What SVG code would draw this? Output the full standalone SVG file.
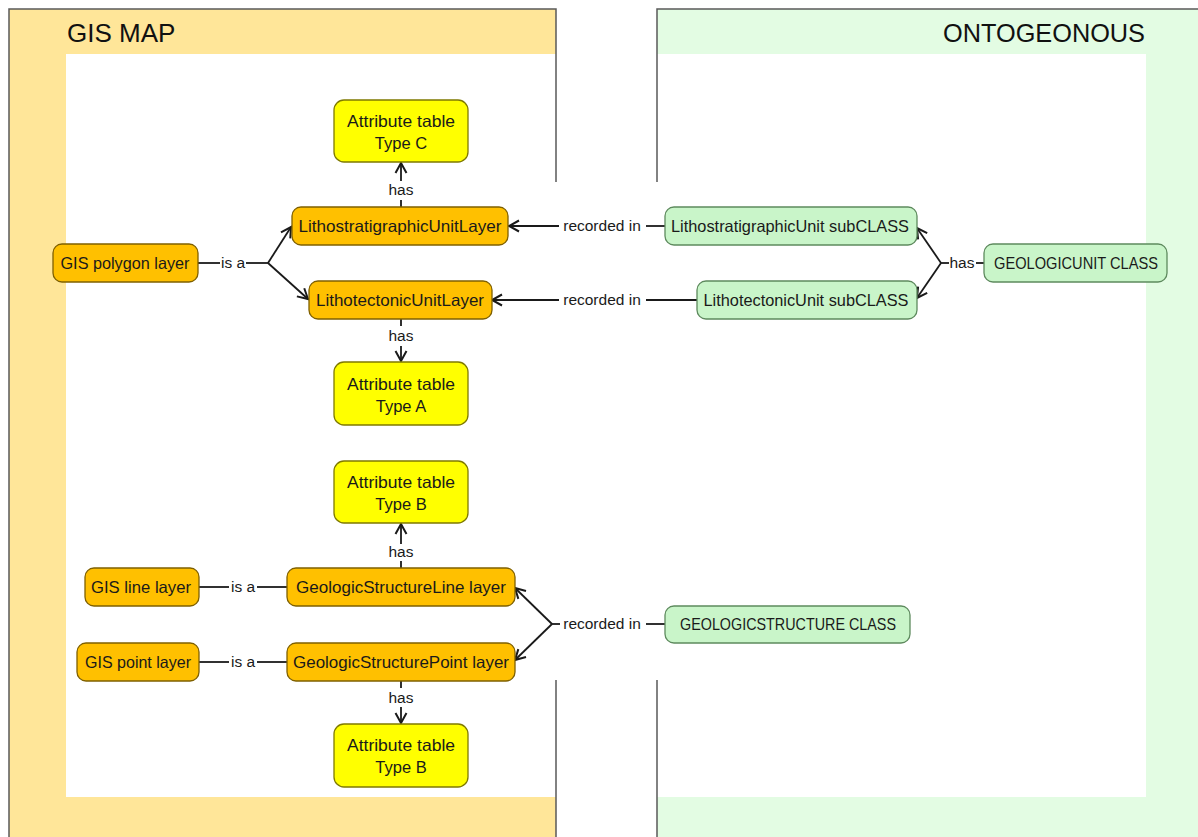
<svg xmlns="http://www.w3.org/2000/svg" width="1198" height="837" viewBox="0 0 1198 837">
  <defs>
    <style>
      .panel-border { fill: none; stroke: #5a5a5a; stroke-width: 1.5; }
      .title { font-family: "Liberation Sans", Arial, sans-serif; font-size: 26px; fill: #111; }
      .node rect { stroke-width: 1.3; }
      .gis rect { fill: #FFC000; stroke: #7F6000; }
      .table rect { fill: #FFFF00; stroke: #7F7A00; }
      .onto rect { fill: #C9F5C9; stroke: #5E8A5E; }
      .node text { font-family: "Liberation Sans", Arial, sans-serif; font-size: 16.5px; fill: #1a1a1a; text-anchor: middle; }
      .edge { fill: none; stroke: #1a1a1a; stroke-width: 1.8; }
      .lbl { font-family: "Liberation Sans", Arial, sans-serif; font-size: 15.5px; fill: #1a1a1a; text-anchor: middle; }
    </style>
    <marker id="arrow" viewBox="0 0 14 14" refX="12" refY="7" markerWidth="14" markerHeight="14" markerUnits="userSpaceOnUse" orient="auto">
      <path d="M2,1.5 L12,7 L2,12.5" fill="none" stroke="#1a1a1a" stroke-width="2" stroke-linejoin="miter"/>
    </marker>
  </defs>

  <!-- page background -->
  <rect x="0" y="0" width="1198" height="837" fill="#ffffff"/>

  <!-- GIS MAP panel -->
  <g id="panel-gis">
    <rect x="9" y="9" width="547" height="840" fill="#FFE699"/>
    <rect x="66" y="54" width="490" height="743" fill="#ffffff"/>
    <path class="panel-border" d="M9,845 V9 H556 V182 M556,680 V845"/>
    <text class="title" x="67" y="42">GIS MAP</text>
  </g>

  <!-- ONTOGEONOUS panel -->
  <g id="panel-onto">
    <rect x="657" y="9" width="560" height="840" fill="#E3FCE3"/>
    <rect x="657" y="54" width="489" height="743" fill="#ffffff"/>
    <path class="panel-border" d="M657,182 V9 H1210 M657,680 V845"/>
    <text class="title" x="943" y="42" textLength="202" lengthAdjust="spacingAndGlyphs">ONTOGEONOUS</text>
  </g>

  <!-- connectors -->
  <g id="connectors">
    <!-- LithostratigraphicUnitLayer has Attribute table Type C -->
    <path class="edge" d="M401,181 V163" marker-end="url(#arrow)"/>
    <path class="edge" d="M401,200 V207"/>
    <text class="lbl" x="401" y="195">has</text>

    <!-- GIS polygon layer is a ... -->
    <path class="edge" d="M198,263 H220"/>
    <text class="lbl" x="233" y="268">is a</text>
    <path class="edge" d="M246,263 H268"/>
    <path class="edge" d="M268,263 L291,227" marker-end="url(#arrow)"/>
    <path class="edge" d="M268,263 L308,299" marker-end="url(#arrow)"/>

    <!-- LithotectonicUnitLayer has Attribute table Type A -->
    <path class="edge" d="M401,319 V326"/>
    <text class="lbl" x="401" y="341">has</text>
    <path class="edge" d="M401,346 V361" marker-end="url(#arrow)"/>

    <!-- recorded in (lithostratigraphic) -->
    <path class="edge" d="M559,226 H509" marker-end="url(#arrow)"/>
    <text class="lbl" x="602" y="231">recorded in</text>
    <path class="edge" d="M646,226 H665"/>

    <!-- recorded in (lithotectonic) -->
    <path class="edge" d="M559,300 H492" marker-end="url(#arrow)"/>
    <text class="lbl" x="602" y="305">recorded in</text>
    <path class="edge" d="M646,300 H697"/>

    <!-- GEOLOGICUNIT CLASS has subclasses -->
    <path class="edge" d="M984,263 H976"/>
    <text class="lbl" x="962" y="268">has</text>
    <path class="edge" d="M949,263 H941"/>
    <path class="edge" d="M941,263 L917,228" marker-end="url(#arrow)"/>
    <path class="edge" d="M941,263 L917,298" marker-end="url(#arrow)"/>

    <!-- GeologicStructureLine layer has Attribute table Type B -->
    <path class="edge" d="M401,544 V524" marker-end="url(#arrow)"/>
    <text class="lbl" x="401" y="557">has</text>
    <path class="edge" d="M401,561 V568"/>

    <!-- GIS line layer is a GeologicStructureLine layer -->
    <path class="edge" d="M199,587 H229"/>
    <text class="lbl" x="243" y="592">is a</text>
    <path class="edge" d="M257,587 H287"/>

    <!-- GIS point layer is a GeologicStructurePoint layer -->
    <path class="edge" d="M199,662 H229"/>
    <text class="lbl" x="243" y="667">is a</text>
    <path class="edge" d="M257,662 H287"/>

    <!-- GEOLOGICSTRUCTURE CLASS recorded in structure layers -->
    <path class="edge" d="M665,624 H646"/>
    <text class="lbl" x="602" y="629">recorded in</text>
    <path class="edge" d="M560,624 H552"/>
    <path class="edge" d="M552,624 L515,588" marker-end="url(#arrow)"/>
    <path class="edge" d="M552,624 L515,660" marker-end="url(#arrow)"/>

    <!-- GeologicStructurePoint layer has Attribute table Type B -->
    <path class="edge" d="M401,681 V688"/>
    <text class="lbl" x="401" y="703">has</text>
    <path class="edge" d="M401,707 V723" marker-end="url(#arrow)"/>
  </g>

  <!-- GIS side nodes -->
  <g id="table-type-c" class="node table">
    <rect x="334" y="100" width="134" height="62" rx="10"/>
    <text x="401" y="127" textLength="108" lengthAdjust="spacingAndGlyphs">Attribute table</text>
    <text x="401" y="149">Type C</text>
  </g>
  <g id="lithostratigraphic-layer" class="node gis">
    <rect x="292" y="207" width="216" height="38" rx="9"/>
    <text x="400" y="232" textLength="203" lengthAdjust="spacingAndGlyphs">LithostratigraphicUnitLayer</text>
  </g>
  <g id="gis-polygon-layer" class="node gis">
    <rect x="53" y="244" width="145" height="38" rx="9"/>
    <text x="125" y="269" textLength="129" lengthAdjust="spacingAndGlyphs">GIS polygon layer</text>
  </g>
  <g id="lithotectonic-layer" class="node gis">
    <rect x="309" y="281" width="183" height="38" rx="9"/>
    <text x="400" y="306" textLength="168" lengthAdjust="spacingAndGlyphs">LithotectonicUnitLayer</text>
  </g>
  <g id="table-type-a" class="node table">
    <rect x="334" y="362" width="134" height="63" rx="10"/>
    <text x="401" y="390" textLength="108" lengthAdjust="spacingAndGlyphs">Attribute table</text>
    <text x="401" y="412">Type A</text>
  </g>
  <g id="table-type-b-line" class="node table">
    <rect x="334" y="461" width="134" height="62" rx="10"/>
    <text x="401" y="488" textLength="108" lengthAdjust="spacingAndGlyphs">Attribute table</text>
    <text x="401" y="510">Type B</text>
  </g>
  <g id="gis-line-layer" class="node gis">
    <rect x="85" y="568" width="114" height="38" rx="9"/>
    <text x="141" y="593" textLength="100" lengthAdjust="spacingAndGlyphs">GIS line layer</text>
  </g>
  <g id="structure-line-layer" class="node gis">
    <rect x="287" y="568" width="228" height="38" rx="9"/>
    <text x="401" y="593" textLength="210" lengthAdjust="spacingAndGlyphs">GeologicStructureLine layer</text>
  </g>
  <g id="gis-point-layer" class="node gis">
    <rect x="77" y="643" width="122" height="38" rx="9"/>
    <text x="138" y="668" textLength="106" lengthAdjust="spacingAndGlyphs">GIS point layer</text>
  </g>
  <g id="structure-point-layer" class="node gis">
    <rect x="287" y="643" width="228" height="38" rx="9"/>
    <text x="401" y="668" textLength="216" lengthAdjust="spacingAndGlyphs">GeologicStructurePoint layer</text>
  </g>
  <g id="table-type-b-point" class="node table">
    <rect x="334" y="724" width="134" height="63" rx="10"/>
    <text x="401" y="751" textLength="108" lengthAdjust="spacingAndGlyphs">Attribute table</text>
    <text x="401" y="773">Type B</text>
  </g>

  <!-- ontology side nodes -->
  <g id="lithostratigraphic-subclass" class="node onto">
    <rect x="665" y="207" width="252" height="38" rx="9"/>
    <text x="790" y="232" textLength="238" lengthAdjust="spacingAndGlyphs">LithostratigraphicUnit subCLASS</text>
  </g>
  <g id="lithotectonic-subclass" class="node onto">
    <rect x="697" y="281" width="220" height="38" rx="9"/>
    <text x="806" y="306" textLength="205" lengthAdjust="spacingAndGlyphs">LithotectonicUnit subCLASS</text>
  </g>
  <g id="geologicunit-class" class="node onto">
    <rect x="984" y="244" width="183" height="38" rx="9"/>
    <text x="1076" y="269" textLength="164" lengthAdjust="spacingAndGlyphs">GEOLOGICUNIT CLASS</text>
  </g>
  <g id="geologicstructure-class" class="node onto">
    <rect x="665" y="606" width="245" height="37" rx="9"/>
    <text x="788" y="630" textLength="216" lengthAdjust="spacingAndGlyphs">GEOLOGICSTRUCTURE CLASS</text>
  </g>
</svg>
